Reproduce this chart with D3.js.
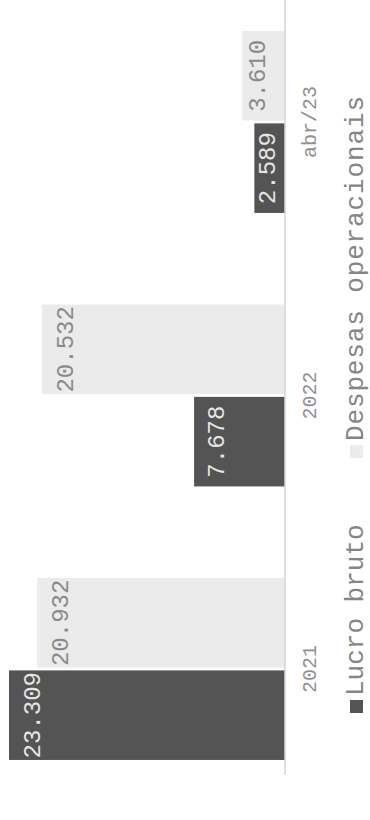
<!DOCTYPE html>
<html lang="pt">
<head>
    <meta charset="UTF-8">
    <title>Lucro bruto x Despesas operacionais</title>
    <script src="https://cdn.jsdelivr.net/npm/d3@7"></script>
    <style>
        body { margin: 0; background: #fff; }
        svg text { font-family: "Courier New", "Liberation Mono", monospace; }
        .axis path { stroke: #d4d4d4; stroke-width: 1.5; }
        .axis line { display: none; }
        .axis text { fill: #8f8f8f; font-size: 20px; }
    </style>
</head>
<body>
<script>
	// dados
	var categories = ["2021", "2022", "abr/23"];
	var series = ["Lucro bruto", "Despesas operacionais"];
	var lucroBruto = [23309, 7678, 2589];
	var despesas = [20932, 20532, 3610];
	var colors = ["#545454", "#ebebeb"];
	var labelColors = ["#e6e6e6", "#8a8a8a"];

	// 23309 -> "23.309"
	function br(v) { return (v / 1000).toFixed(3); }

	// tela 370x820, o gráfico é desenhado deitado (rotate -90)
	var svg = d3.select("body")
		.append("svg")
		.attr("width", 370)
		.attr("height", 820);
	var g = svg.append("g")
		.attr("transform", "translate(0,820) rotate(-90)");

	var baseY = 285;
	var x0 = d3.scaleBand()
		.domain(categories)
		.range([45, 804])
		.paddingInner(0.335)
		.paddingOuter(0.055);
	var x1 = d3.scaleBand()
		.domain(series)
		.range([0, x0.bandwidth()])
		.paddingInner(0.03);
	var y = d3.scaleLinear()
		.domain([0, d3.max(lucroBruto.concat(despesas))])
		.range([baseY, 9]);

	var rows = categories.map(function (c, i) {
		return { cat: c, vals: [lucroBruto[i], despesas[i]] };
	});

	var groups = g.selectAll(".grp")
		.data(rows)
		.enter()
		.append("g")
		.attr("class", "grp")
		.attr("transform", function (d) { return "translate(" + x0(d.cat) + ",0)"; });

	var cells = groups.selectAll(".cell")
		.data(function (d) {
			return d.vals.map(function (v, j) { return { s: series[j], j: j, v: v }; });
		})
		.enter()
		.append("g")
		.attr("class", "cell");

	cells.append("rect")
		.attr("x", function (d) { return x1(d.s); })
		.attr("y", function (d) { return y(d.v); })
		.attr("width", x1.bandwidth())
		.attr("height", function (d) { return baseY - y(d.v); })
		.attr("fill", function (d) { return colors[d.j]; });

	// rótulos de valor dentro da barra
	cells.append("text")
		.attr("x", function (d) { return x1(d.s) + x1.bandwidth() / 2; })
		.attr("y", function (d) {
			var h = baseY - y(d.v);
			return y(d.v) + Math.min(15, h * 0.15) + 16;
		})
		.attr("text-anchor", "middle")
		.attr("font-size", 24)
		.attr("fill", function (d) { return labelColors[d.j]; })
		.text(function (d) { return br(d.v); });

	// eixo
	var axis = d3.axisBottom(x0).tickSize(0).tickPadding(17);
	var ax = g.append("g")
		.attr("class", "axis")
		.attr("transform", "translate(0," + baseY + ")")
		.call(axis);
	ax.select(".domain").attr("d", "M45,0H820");

	// legenda
	var legSq = 13, legGap = 4, legFont = 26;
	var legX = [107, 362];        // início de cada item
	var leg = g.append("g")
		.attr("class", "legend")
		.attr("transform", "translate(0,363)");
	var items = leg.selectAll(".leg")
		.data(series)
		.enter()
		.append("g")
		.attr("class", "leg")
		.attr("transform", function (d, i) { return "translate(" + legX[i] + ",0)"; });
	items.append("rect")
		.attr("x", 0)
		.attr("y", -legSq)
		.attr("width", legSq)
		.attr("height", legSq)
		.attr("fill", function (d, i) { return colors[i]; });
	items.append("text")
		.attr("x", legSq + legGap)
		.attr("y", 0)
		.attr("font-size", legFont)
		.attr("fill", "#858585")
		.text(function (d) { return d; });
	items.select("text")
		.filter(function (d, i) { return i === 1; })
		.attr("textLength", 345)
		.attr("lengthAdjust", "spacing");
</script>
</body>
</html>
